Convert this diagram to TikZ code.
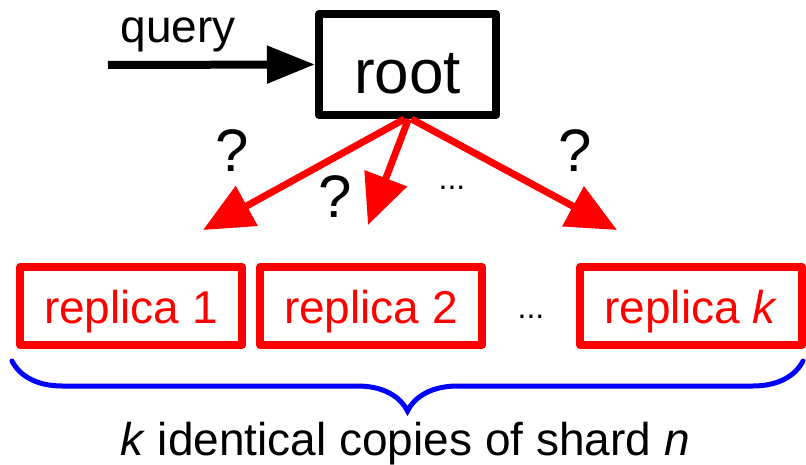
\documentclass[tikz,border=0pt]{standalone}
\usepackage{fontspec}
\setmainfont{Liberation Sans}
\usetikzlibrary{arrows.meta,decorations.pathreplacing}

\definecolor{repred}{RGB}{255,0,0}
\definecolor{braceblue}{RGB}{0,0,255}

\tikzset{
  rootbox/.style={draw=black, line width=8pt, line join=round,
    minimum width=177pt, minimum height=101pt, inner sep=0pt,
    text height=62pt, text depth=4pt, font=\fontsize{62}{62}\selectfont},
  replicabox/.style={draw=repred, text=repred, line width=8pt, line join=round,
    minimum width=222pt, minimum height=78pt, inner sep=0pt,
    text height=40pt, text depth=6pt, font=\fontsize{46}{46}\selectfont},
  probe/.style={draw=repred, line width=7pt,
    -{Triangle[length=50pt,width=44pt]}},
  inarrow/.style={draw=black, line width=8pt,
    -{Triangle[length=48pt,width=36pt]}},
  qmark/.style={anchor=base, inner sep=0pt, font=\fontsize{60}{60}\selectfont},
  dots/.style={anchor=base, inner sep=0pt, font=\fontsize{32}{32}\selectfont},
  label/.style={anchor=base, inner sep=0pt, font=\fontsize{46}{46}\selectfont},
  bracestyle/.style={draw=braceblue, line width=5pt, line cap=round,
    decorate, decoration={brace, amplitude=50pt}}
}

\begin{document}
\begin{tikzpicture}[x=1pt, y=-1pt]
  \useasboundingbox (0,0) rectangle (806,465);

  % root server
  \node[rootbox] (root) at (407.5,64.5) {root};

  % incoming query
  \coordinate (qsrc) at (108,65);
  \node[label] (query) at (178,43) {query};
  \draw[inarrow] (qsrc) -- (root.west);

  % replicas of one shard
  \node[replicabox] (r1) at (131,306) {replica 1};
  \node[replicabox] (r2) at (371,306) {replica 2};
  \node[replicabox] (rk) at (691,306) {replica \textit{k}};
  \node[dots] (rdots) at (531,318) {...};

  % where to send the query?
  \coordinate (t1) at (203,230);
  \coordinate (t2) at (368,225);
  \coordinate (t3) at (617,230);
  \draw[probe] ([xshift=-3pt]root.south) -- (t1);
  \draw[probe] ([xshift=1pt]root.south) -- (t2);
  \draw[probe] ([xshift=4pt]root.south) -- (t3);
  \node[qmark] (q1) at (232,172) {?};
  \node[qmark] (q2) at (335,218) {?};
  \node[qmark] (q3) at (575,172) {?};
  \node[dots] (adots) at (452,190) {...};

  % brace over the replicas
  \coordinate (bR) at (803,361);
  \coordinate (bL) at (12,361);
  \draw[bracestyle] (bR) -- (bL);
  \node[label] (caption) at (405,455) {\textit{k} identical copies of shard \textit{n}};
\end{tikzpicture}
\end{document}
